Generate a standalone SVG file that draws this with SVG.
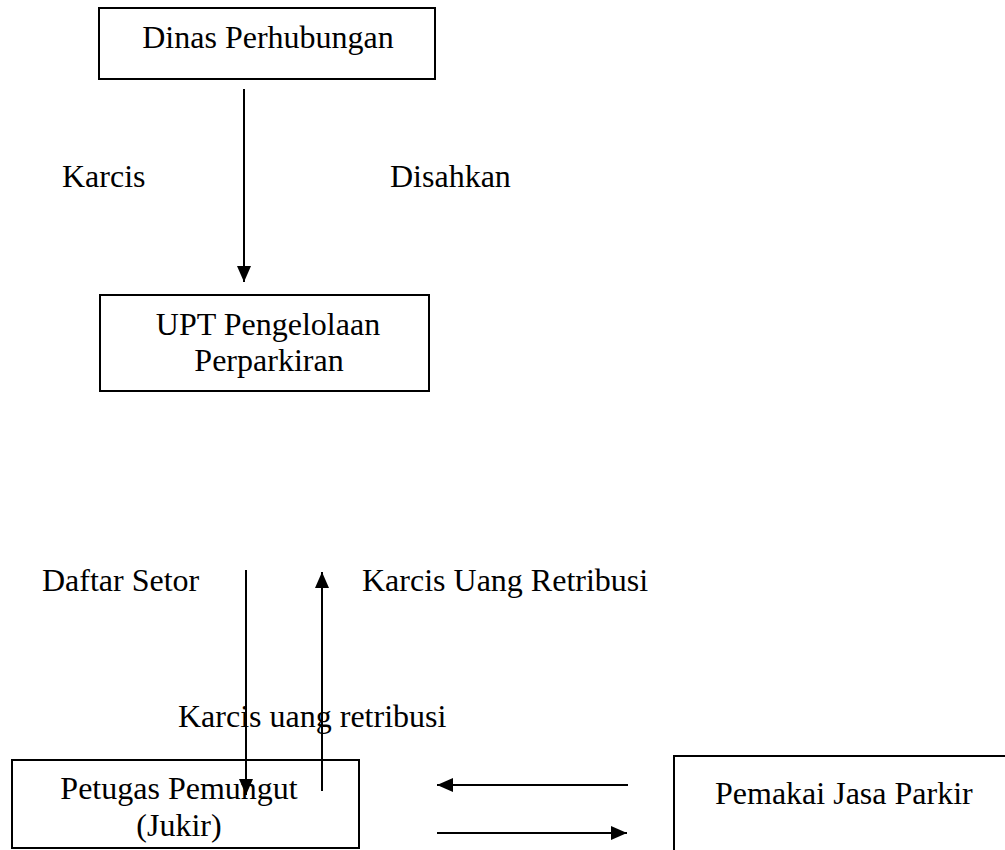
<svg xmlns="http://www.w3.org/2000/svg" width="1005" height="850" viewBox="0 0 1005 850">
<style>
.box{fill:#fff;stroke:#000;stroke-width:2}
.t{font-family:"Liberation Serif","Times New Roman",serif;font-size:32px;fill:#000}
.c{text-anchor:middle}
.ln{stroke:#000;stroke-width:2;fill:none}
</style>
<defs>
<marker id="ah" viewBox="0 0 16 14" refX="16" refY="7" markerWidth="16" markerHeight="14" markerUnits="userSpaceOnUse" orient="auto">
<path d="M0,0 L16,7 L0,14 Z" fill="#000"/>
</marker>
</defs>
<rect width="1005" height="850" fill="#fff"/>
<g id="dinas">
<rect class="box" x="99" y="8" width="336" height="71"/>
<text class="t c" x="268" y="48">Dinas Perhubungan</text>
</g>
<g id="upt">
<rect class="box" x="100" y="295" width="329" height="96"/>
<text class="t c" x="268" y="335">UPT Pengelolaan</text>
<text class="t c" x="269" y="371">Perparkiran</text>
</g>
<g id="petugas">
<rect class="box" x="12" y="760" width="347" height="88"/>
<text class="t c" x="179" y="799">Petugas Pemungut</text>
<text class="t c" x="179" y="836">(Jukir)</text>
</g>
<g id="pemakai">
<rect class="box" x="674" y="756" width="400" height="200"/>
<text class="t" x="715" y="804">Pemakai Jasa Parkir</text>
</g>
<g id="connectors">
<line class="ln" x1="244" y1="89" x2="244" y2="282" marker-end="url(#ah)"/>
<line class="ln" x1="246" y1="570" x2="246" y2="795" marker-end="url(#ah)"/>
<line class="ln" x1="322" y1="791" x2="322" y2="572" marker-end="url(#ah)"/>
<line class="ln" x1="628" y1="785" x2="437" y2="785" marker-end="url(#ah)"/>
<line class="ln" x1="437" y1="833" x2="627" y2="833" marker-end="url(#ah)"/>
</g>
<g id="labels">
<text class="t" x="62" y="187">Karcis</text>
<text class="t" x="390" y="187">Disahkan</text>
<text class="t" x="42" y="591">Daftar Setor</text>
<text class="t" x="362" y="591">Karcis Uang Retribusi</text>
<text class="t" x="178" y="727">Karcis uang retribusi</text>
</g>
</svg>
